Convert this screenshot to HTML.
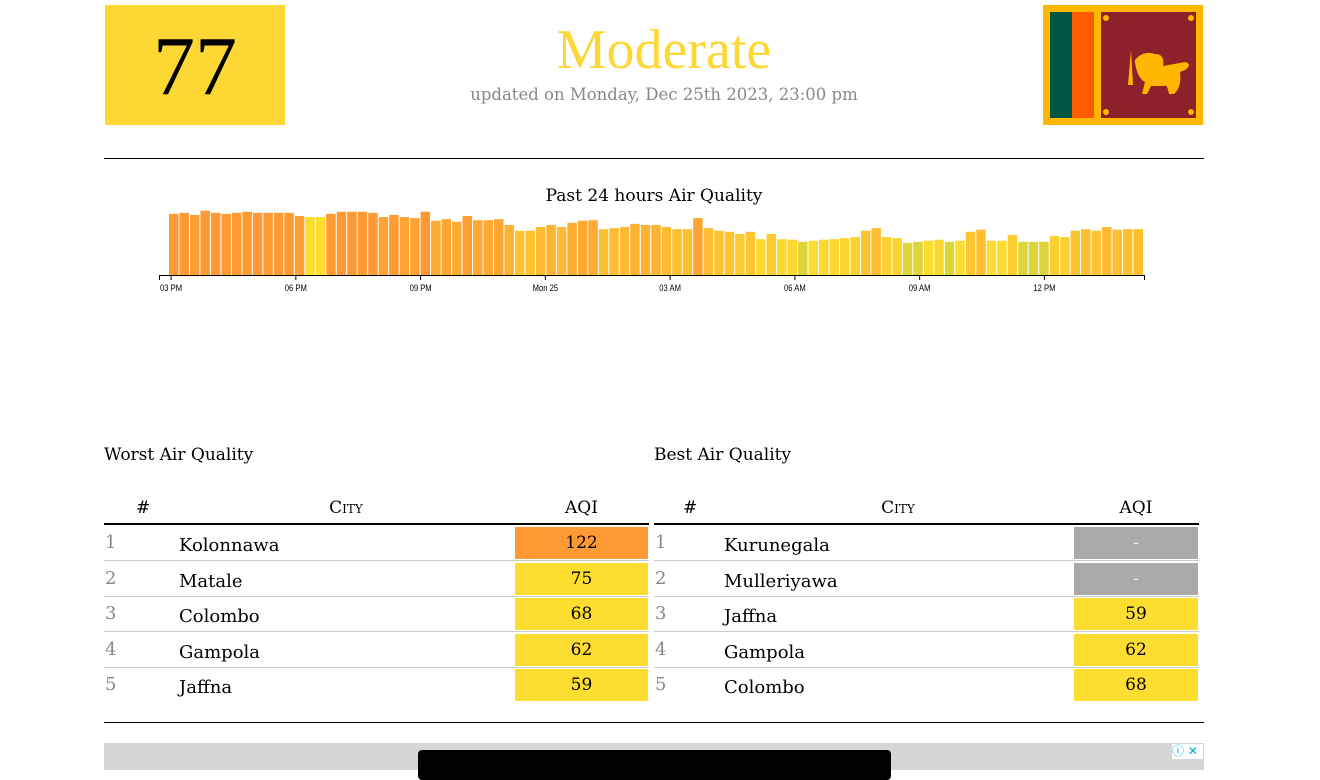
<!DOCTYPE html>
<html><head><meta charset="utf-8">
<style>
body{margin:0;width:1320px;height:770px;background:#fff;position:relative;overflow:hidden;font-family:"DejaVu Serif","Liberation Serif",serif;}
.a{position:absolute;}
.hl{position:absolute;left:104px;width:1100px;height:1px;background:#000;}
.cell{position:absolute;height:32px;line-height:32px;text-align:center;font-size:17px;}
.rk{position:absolute;color:#888;font-size:18px;}
.ct{position:absolute;font-size:18px;}
.rl{position:absolute;height:1px;background:#ccc;}
</style></head><body>
<div class="a" style="left:105px;top:5px;width:180px;height:120px;background:#fdd835;text-align:center;line-height:124px;font-size:84px;font-family:'Liberation Serif',serif;">77</div>
<div class="a" style="left:400px;width:528px;top:18px;text-align:center;font-size:56px;color:#fdd835;font-family:'Liberation Serif',serif;">Moderate</div>
<div class="a" style="left:400px;width:528px;top:85px;text-align:center;font-size:16.5px;color:#888;">updated on Monday, Dec 25th 2023, 23:00 pm</div>
<svg class="a" style="left:1043px;top:5px" width="160" height="120" viewBox="0 0 160 120">
<rect width="160" height="120" fill="#ffb700"/>
<rect x="7" y="7" width="22" height="106" fill="#005641"/>
<rect x="29" y="7" width="22" height="106" fill="#ff5b00"/>
<rect x="58" y="7" width="95" height="106" fill="#8d2029"/>
<path d="M85 80 L88 45 L90 80 Z M92 55 q8-10 20-6 q10 0 8 12 l22-4 q8 2 0 8 l-5 2 q2 15-6 22 l-5 0 q-2-10-4-8 l-14 0 l-4 8 h-5 l3-12 q-8-4-10-20 z" fill="#ffb700"/>
<circle cx="63" cy="13" r="3" fill="#ffb700"/><circle cx="148" cy="13" r="3" fill="#ffb700"/>
<circle cx="63" cy="107" r="3" fill="#ffb700"/><circle cx="148" cy="107" r="3" fill="#ffb700"/>
</svg>
<div class="hl" style="top:158px"></div>
<div class="a" style="left:404px;width:500px;top:186px;text-align:center;font-size:17px;">Past 24 hours Air Quality</div>
<svg class="a" id="chart" style="left:0;top:200px" width="1320" height="100"></svg>
<script>
const aqiValues=[116,118,114,122,118,116,118,120,118,118,118,118,112,110,110,116,120,120,120,118,110,114,110,108,120,103,106,101,112,104,104,106,95,84,84,91,95,91,99,103,104,87,89,91,97,95,95,91,87,87,108,89,84,82,78,82,68,78,68,67,63,65,67,68,70,72,84,89,72,70,61,63,65,67,63,65,82,86,65,65,76,63,63,63,74,72,84,87,84,91,86,87,87];
const tickLabels=["03 PM","06 PM","09 PM","Mon 25","03 AM","06 AM","09 AM","12 PM"];
const tickIndex=[0.2,12.1,24.0,35.9,47.8,59.7,71.6,83.5];
const yellowIdx=[13,14];
</script>
<script>
(function(){
const svg=document.getElementById('chart');const ns='http://www.w3.org/2000/svg';
const x0=169,x1=1144,base=75,n=aqiValues.length,bw=(x1-x0)/n;
const xs=i=>x0+i*bw; const ys=v=>base-v*0.527;
function col(v,i){
 if(yellowIdx.indexOf(i)>=0) return '#fddc30';
 const t=Math.max(0,Math.min(1,(v-62)/(116-62)));
 const a=[221,214,58],b=[253,220,48],c=[255,153,51];
 let r;
 if(t<0.05){r=a;}else{const u=(t-0.05)/0.95;r=b.map((bv,k)=>Math.round(bv+(c[k]-bv)*u));}
 return 'rgb('+r.join(',')+')';
}
aqiValues.forEach((v,i)=>{
 const r=document.createElementNS(ns,'rect');
 
 
 r.setAttribute('x',xs(i));r.setAttribute('y',ys(v));
 r.setAttribute('width',bw-1);r.setAttribute('height',base-ys(v));
 r.setAttribute('fill',col(v,i));svg.appendChild(r);
});
const ax=document.createElementNS(ns,'path');


ax.setAttribute('d','M159.5 80V75.5H1144.5V80');ax.setAttribute('stroke','#000');ax.setAttribute('fill','none');svg.appendChild(ax);
tickLabels.forEach((l,k)=>{
 const x=xs(tickIndex[k]);
 const t=document.createElementNS(ns,'line');
 
 
 t.setAttribute('x1',x);t.setAttribute('x2',x);t.setAttribute('y1',75);t.setAttribute('y2',80);t.setAttribute('stroke','#000');svg.appendChild(t);
 const tx=document.createElementNS(ns,'text');
 
 
 tx.setAttribute('x',x);tx.setAttribute('y',91);tx.setAttribute('text-anchor','middle');
 tx.setAttribute('font-size','9');tx.setAttribute('font-family','Liberation Sans Narrow, Liberation Sans, sans-serif');
 tx.setAttribute('transform','translate('+x+',0) scale(0.85,1) translate('+(-x)+',0)');
 tx.textContent=l;svg.appendChild(tx);
});
})();
</script>

<div class="a" style="left:104px;top:445px;font-size:17px;">Worst Air Quality</div>
<div class="a" style="left:654px;top:445px;font-size:17px;">Best Air Quality</div>
<div id="tables"></div>
<script>
const worstCities=["Kolonnawa","Matale","Colombo","Gampola","Jaffna"];
const worstAqi=["122","75","68","62","59"];
const bestCities=["Kurunegala","Mulleriyawa","Jaffna","Gampola","Colombo"];
const bestAqi=["-","-","59","62","68"];
</script>
<script>
(function(){
const host=document.getElementById('tables');
function bg(v){if(v==='-')return '#aaaaaa';const n=+v;return n>100?'#ff9933':'#fddd30';}
function table(L,W,cityX,hashX,cityHX,aqiL,aqiW,cities,aqi,name){
 let h='';
 h+=`<div class="a" style="left:${hashX}px;top:498px;font-size:17px;">#</div>`;
 h+=`<div class="a" style="left:${cityHX-60}px;width:120px;text-align:center;top:498px;font-size:17px;font-variant:small-caps;">City</div>`;
 h+=`<div class="a" style="left:${aqiL}px;width:${aqiW}px;text-align:center;top:498px;font-size:17px;">AQI</div>`;
 h+=`<div class="a" style="left:${L}px;width:${W}px;top:523px;height:2px;background:#000"></div>`;
 cities.forEach((c,i)=>{
  const top=527+i*35.5;
  h+=`<div class="rk" style="left:${L+1}px;top:${top+5}px">${i+1}</div>`;
  h+=`<div class="ct" style="left:${cityX}px;top:${top+8}px">${c}</div>`;
  h+=`<div class="cell" style="left:${aqiL}px;width:${aqiW}px;top:${top}px;background:${bg(aqi[i])};color:${aqi[i]==='-'?'#eee':'#000'}">${aqi[i]}</div>`;
  if(i<4)h+=`<div class="rl" style="left:${L}px;width:${W}px;top:${top+33}px"></div>`;
 });
 return h;
}
host.innerHTML=table(104,545,179,136,346,515,133,worstCities,worstAqi,'worst')+table(654,545,724,683,898,1074,124,bestCities,bestAqi,'best');
})();
</script>
<div class="hl" style="top:722px"></div>
<div class="a" style="left:104px;top:743px;width:1100px;height:27px;background:#d6d6d6"></div>
<div class="a" style="left:418px;top:750px;width:473px;height:30px;background:#000;border-radius:4px"></div>
<div class="a" style="left:1172px;top:744px;width:31px;height:15px;background:#fff;color:#00aecd;font-size:12px;line-height:15px;font-family:'DejaVu Sans',sans-serif;">ⓘ ✕</div>
</body></html>
